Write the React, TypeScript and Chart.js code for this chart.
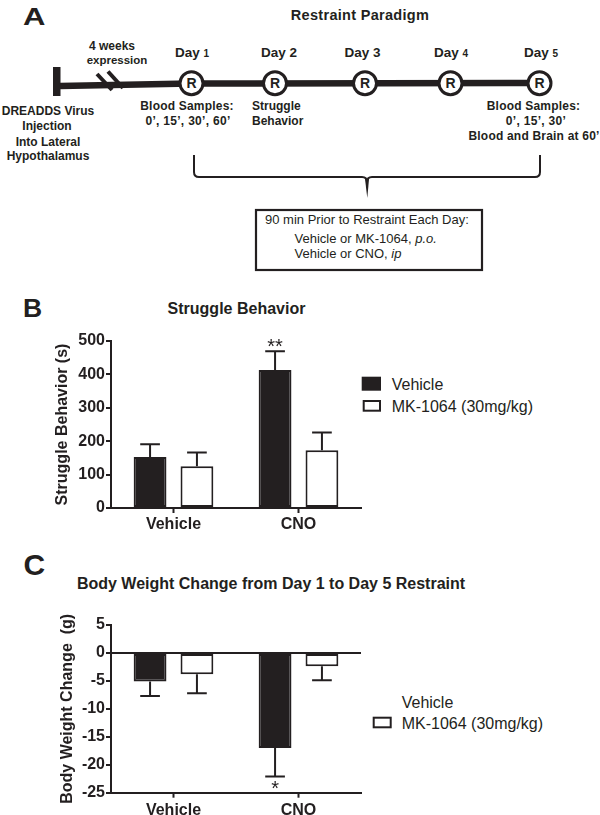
import React, { useEffect, useRef } from 'react';
import { Chart, registerables } from 'chart.js';

Chart.register(...registerables);

const FONT = "Arial, 'Liberation Sans', Helvetica, sans-serif";
const INK = '#231f20';

// ---- data ----
const groups = ['Vehicle', 'CNO'];
const treatments = ['Vehicle', 'MK-1064 (30mg/kg)'];

const struggleVehicle = [153, 413];
const struggleVehicleSem = [38, 56];
const struggleVehicleSig = ['', '**'];
const struggleMK = [125, 173];
const struggleMKSem = [41, 53];
const struggleMKSig = ['', ''];
const struggleTicks = [0, 100, 200, 300, 400, 500];

const weightVehicle = [-5.1, -17.0];
const weightVehicleSem = [2.6, 5.1];
const weightVehicleSig = ['', '*'];
const weightMK = [-3.8, -2.4];
const weightMKSem = [3.4, 2.5];
const weightMKSig = ['', ''];
const weightTicks = [-25, -20, -15, -10, -5, 0, 5];

const errorBarPlugin = {
  id: 'errorBars',
  afterDatasetsDraw(chart: any) {
    const { ctx } = chart;
    const ys = chart.scales.y;
    chart.data.datasets.forEach((ds: any, i: number) => {
      const meta = chart.getDatasetMeta(i);
      meta.data.forEach((bar: any, j: number) => {
        const v = ds.data[j];
        const e = ds.sem[j];
        const dir = v >= 0 ? 1 : -1;
        const y0 = ys.getPixelForValue(v);
        const y1 = ys.getPixelForValue(v + dir * e);
        const half = bar.width * 0.3;
        ctx.save();
        ctx.strokeStyle = INK;
        ctx.lineWidth = 2;
        ctx.beginPath();
        ctx.moveTo(bar.x, y0);
        ctx.lineTo(bar.x, y1);
        ctx.moveTo(bar.x - half, y1);
        ctx.lineTo(bar.x + half, y1);
        ctx.stroke();
        const sig = ds.sig[j];
        if (sig) {
          ctx.fillStyle = INK;
          ctx.font = `20px ${FONT}`;
          ctx.textAlign = 'center';
          ctx.textBaseline = 'alphabetic';
          ctx.fillText(sig, bar.x, dir > 0 ? y1 + 2 : y1 + 19);
        }
        ctx.restore();
      });
    });
  },
};

type Series = { label: string; data: number[]; sem: number[]; sig: string[]; fill: string };

function BarPanel(props: {
  top: number;
  height: number;
  padTop: number;
  xAxisHeight: number;
  xLabelPad: number;
  yTitle: string;
  yTitlePad: number;
  ticks: number[];
  zeroLine: boolean;
  series: Series[];
}) {
  const ref = useRef<HTMLCanvasElement | null>(null);
  useEffect(() => {
    if (!ref.current) return;
    const { ticks, zeroLine } = props;
    const boldFont = { family: FONT, size: 16, weight: 'bold' as const };
    const chart = new Chart(ref.current, {
      type: 'bar',
      data: {
        labels: groups,
        datasets: props.series.map((s) => ({
          label: s.label,
          data: s.data,
          sem: s.sem,
          sig: s.sig,
          backgroundColor: s.fill,
          borderColor: INK,
          borderWidth: 2,
          borderSkipped: false,
          categoryPercentage: 0.75,
          barPercentage: 0.7,
        })) as any,
      },
      options: {
        responsive: false,
        animation: false,
        devicePixelRatio: 1,
        layout: { padding: { top: props.padTop, right: 2, left: 0, bottom: 0 } },
        plugins: {
          legend: { display: false },
          tooltip: { enabled: false },
          title: { display: false },
        },
        scales: {
          x: {
            type: 'category',
            offset: true,
            grid: {
              offset: false,
              drawOnChartArea: false,
              drawTicks: true,
              tickLength: 5,
              tickWidth: 2,
              tickColor: INK,
            },
            border: { display: true, color: INK, width: 2 },
            ticks: { color: INK, font: boldFont, padding: props.xLabelPad, maxRotation: 0 },
            afterFit: (s: any) => {
              s.height = props.xAxisHeight;
            },
          },
          y: {
            min: ticks[0],
            max: ticks[ticks.length - 1],
            ticks: { stepSize: ticks[1] - ticks[0], color: INK, font: boldFont, padding: 1 },
            grid: {
              drawOnChartArea: zeroLine,
              color: (c: any) => (zeroLine && c.tick && c.tick.value === 0 ? INK : 'rgba(0,0,0,0)'),
              lineWidth: 2,
              tickLength: 5,
              tickWidth: 2,
              tickColor: INK,
            },
            border: { display: true, color: INK, width: 2 },
            title: {
              display: true,
              text: props.yTitle,
              color: INK,
              font: boldFont,
              padding: { top: props.yTitlePad, bottom: 0 },
            },
            afterFit: (s: any) => {
              s.width = 111;
            },
          },
        },
      } as any,
      plugins: [errorBarPlugin],
    });
    return () => chart.destroy();
  }, []);
  return (
    <canvas
      ref={ref}
      width={363}
      height={props.height}
      style={{ position: 'absolute', left: 0, top: props.top, width: 363, height: props.height }}
    />
  );
}

function Diagram() {
  const circles = [191.5, 275, 365, 450.5, 539.5];
  const dayCenters = [192, 279, 362.5, 451, 541];
  const dayNums = ['1', '2', '3', '4', '5'];
  const smallNum = [true, false, false, true, true];
  const b = { fontWeight: 'bold' as const };
  return (
    <svg
      width={600}
      height={815}
      style={{ position: 'absolute', left: 0, top: 0 }}
      fontFamily={FONT}
      fill={INK}
    >
      {/* Panel letters */}
      <text transform="translate(23,25) scale(1.35,1)" fontSize={23} {...b}>A</text>
      <text x={23} y={317} fontSize={26.5} {...b}>B</text>
      <text x={23.5} y={575} fontSize={30} {...b}>C</text>

      {/* Panel A */}
      <text x={360} y={20} fontSize={14.5} textAnchor="middle" letterSpacing={0.3} {...b}>Restraint Paradigm</text>
      <text x={112} y={50} fontSize={12} textAnchor="middle" {...b}>4 weeks</text>
      <text x={117} y={63.5} fontSize={11.5} textAnchor="middle" {...b}>expression</text>
      {dayCenters.map((x, i) => (
        <text key={i} x={x} y={56.7} fontSize={13.5} textAnchor="middle" {...b}>
          Day <tspan fontSize={smallNum[i] ? 10 : 13.5}>{dayNums[i]}</tspan>
        </text>
      ))}
      <rect x={53} y={67} width={7.5} height={29} fill={INK} />
      <polyline points="60,86 191,83.5 539,83" fill="none" stroke={INK} strokeWidth={6.5} />
      <line x1={97} y1={74} x2={112} y2={90} stroke={INK} strokeWidth={4} />
      <line x1={108} y1={71.5} x2={123} y2={88} stroke={INK} strokeWidth={4} />
      {circles.map((cx, i) => (
        <g key={i}>
          <circle cx={cx} cy={83.3} r={11.5} fill="#fff" stroke={INK} strokeWidth={3} />
          <text x={cx} y={88.3} fontSize={14} textAnchor="middle" {...b}>R</text>
        </g>
      ))}
      <text x={48} y={115} fontSize={12} textAnchor="middle" {...b}>DREADDS Virus</text>
      <text x={47} y={130} fontSize={12} textAnchor="middle" {...b}>Injection</text>
      <text x={48} y={145.5} fontSize={12} textAnchor="middle" {...b}>Into Lateral</text>
      <text x={48} y={160} fontSize={12} textAnchor="middle" {...b}>Hypothalamus</text>
      <text x={187} y={110} fontSize={12} textAnchor="middle" letterSpacing={0.2} {...b}>Blood Samples:</text>
      <text x={188} y={125} fontSize={12} textAnchor="middle" letterSpacing={0.3} {...b}>0’, 15’, 30’, 60’</text>
      <text x={252} y={110} fontSize={12} {...b}>Struggle</text>
      <text x={252} y={125} fontSize={12} {...b}>Behavior</text>
      <text x={533.5} y={110} fontSize={12} textAnchor="middle" letterSpacing={0.2} {...b}>Blood Samples:</text>
      <text x={536} y={125} fontSize={12} textAnchor="middle" letterSpacing={0.3} {...b}>0’, 15’, 30’</text>
      <text x={534} y={140} fontSize={12} textAnchor="middle" letterSpacing={0.2} {...b}>Blood and Brain at 60’</text>

      {/* brace */}
      <path
        d="M194,155 V172 Q194,177 199,177 H362 Q367,177 367,182 M367,182 Q367,177 372,177 H535 Q540,177 540,172 V155"
        fill="none"
        stroke={INK}
        strokeWidth={2}
      />
      <polygon points="365,179 369,179 367.3,198" fill={INK} />
      <rect x={256} y={210} width={226} height={60} fill="#fff" stroke={INK} strokeWidth={2.2} />
      <text x={265} y={224.3} fontSize={13}>90 min Prior to  Restraint Each Day:</text>
      <text x={294.5} y={243.3} fontSize={13}>
        Vehicle or MK-1064, <tspan fontStyle="italic">p.o.</tspan>
      </text>
      <text x={294.5} y={257.7} fontSize={13}>
        Vehicle or CNO, <tspan fontStyle="italic">ip</tspan>
      </text>

      {/* Panel B title + legend */}
      <text x={236.5} y={314} fontSize={16} textAnchor="middle" {...b}>Struggle Behavior</text>
      <rect x={361.7} y={376.7} width={19.3} height={14} fill={INK} />
      <rect x={363.7} y={401} width={16.3} height={9.7} fill="#fff" stroke={INK} strokeWidth={2} />
      <text x={391.7} y={390} fontSize={16}>{treatments[0]}</text>
      <text x={391.7} y={411.7} fontSize={16}>{treatments[1]}</text>

      {/* Panel C title + legend */}
      <text x={271} y={589.3} fontSize={16} textAnchor="middle" {...b}>
        Body Weight Change from Day 1 to Day 5 Restraint
      </text>
      <text x={401.7} y={707.7} fontSize={16}>{treatments[0]}</text>
      <rect x={373.7} y={717.7} width={17} height={9.6} fill="#fff" stroke={INK} strokeWidth={2} />
      <text x={401.7} y={729.3} fontSize={16}>{treatments[1]}</text>
    </svg>
  );
}

export default function App() {
  return (
    <div style={{ position: 'absolute', left: 0, top: 0, width: 600, height: 815, background: '#fff', overflow: 'hidden' }}>
      <Diagram />
      <BarPanel
        top={330}
        height={210}
        padTop={11}
        xAxisHeight={32}
        xLabelPad={2}
        yTitle="Struggle Behavior (s)"
        yTitlePad={53.4}
        ticks={struggleTicks}
        zeroLine={false}
        series={[
          { label: treatments[0], data: struggleVehicle, sem: struggleVehicleSem, sig: struggleVehicleSig, fill: INK },
          { label: treatments[1], data: struggleMK, sem: struggleMKSem, sig: struggleMKSig, fill: '#fff' },
        ]}
      />
      <BarPanel
        top={610}
        height={205}
        padTop={15}
        xAxisHeight={22.3}
        xLabelPad={3}
        yTitle="Body Weight Change  (g)"
        yTitlePad={58.4}
        ticks={weightTicks}
        zeroLine={true}
        series={[
          { label: treatments[0], data: weightVehicle, sem: weightVehicleSem, sig: weightVehicleSig, fill: INK },
          { label: treatments[1], data: weightMK, sem: weightMKSem, sig: weightMKSig, fill: '#fff' },
        ]}
      />
    </div>
  );
}
